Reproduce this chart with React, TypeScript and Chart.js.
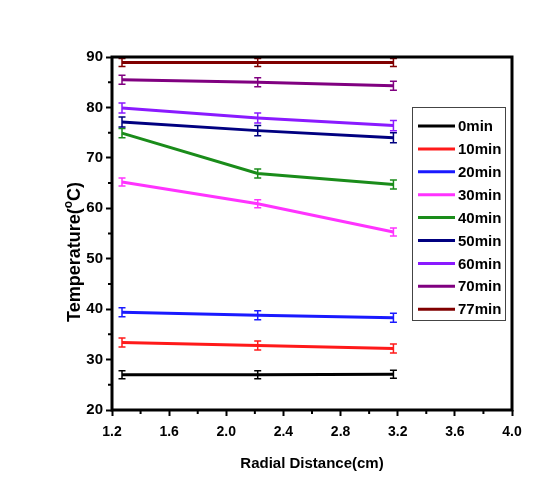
import React, { useEffect, useRef } from "react";
import { Chart, registerables } from "chart.js";

Chart.register(...registerables);

const distances = [1.27, 2.22, 3.17];
const seriesLabels = ["0min", "10min", "20min", "30min", "40min", "50min", "60min", "70min", "77min"];
const seriesColors = ["#000000", "#ff1a1a", "#1a1aff", "#ff33ff", "#1a8c1a", "#000080", "#8a1aff", "#800080", "#800000"];
const t0 = [27.0, 27.0, 27.1];
const t10 = [33.4, 32.8, 32.2];
const t20 = [39.4, 38.8, 38.3];
const t30 = [65.2, 60.9, 55.3];
const t40 = [74.9, 66.9, 64.7];
const t50 = [77.1, 75.4, 74.0];
const t60 = [79.9, 77.9, 76.4];
const t70 = [85.5, 85.0, 84.3];
const t77 = [88.9, 88.9, 88.9];
const seriesValues = [t0, t10, t20, t30, t40, t50, t60, t70, t77];
const errors = [0.8, 0.9, 0.9, 0.8, 0.9, 1.0, 1.0, 0.9, 0.8];
const yTicks = [20, 30, 40, 50, 60, 70, 80, 90];
const xTicks = [1.2, 1.6, 2.0, 2.4, 2.8, 3.2, 3.6, 4.0];

const FONT = "'Liberation Sans', Arial, sans-serif";

const decorPlugin = {
  id: "decor",
  afterDatasetsDraw(chart: any) {
    const ctx = chart.ctx;
    const xs = chart.scales.x;
    const ys = chart.scales.y;
    const { left, right, top, bottom } = chart.chartArea;
    ctx.save();
    // error bars
    chart.data.datasets.forEach((ds: any, i: number) => {
      ctx.strokeStyle = ds.borderColor;
      ctx.lineWidth = 1.5;
      ds.data.forEach((p: any) => {
        const px = xs.getPixelForValue(p.x);
        const yHi = ys.getPixelForValue(p.y + errors[i]);
        const yLo = ys.getPixelForValue(p.y - errors[i]);
        ctx.beginPath();
        ctx.moveTo(px, yHi);
        ctx.lineTo(px, yLo);
        ctx.moveTo(px - 3.5, yHi);
        ctx.lineTo(px + 3.5, yHi);
        ctx.moveTo(px - 3.5, yLo);
        ctx.lineTo(px + 3.5, yLo);
        ctx.stroke();
      });
    });
    // frame
    ctx.strokeStyle = "#000";
    ctx.lineWidth = 3;
    ctx.strokeRect(left, top, right - left, bottom - top);
    // minor ticks
    ctx.lineWidth = 2;
    ctx.beginPath();
    for (let i = 0; i < yTicks.length - 1; i++) {
      const v = (yTicks[i] + yTicks[i + 1]) / 2;
      const py = ys.getPixelForValue(v);
      ctx.moveTo(left - 4, py);
      ctx.lineTo(left, py);
    }
    for (let i = 0; i < xTicks.length - 1; i++) {
      const v = (xTicks[i] + xTicks[i + 1]) / 2;
      const px = xs.getPixelForValue(v);
      ctx.moveTo(px, bottom);
      ctx.lineTo(px, bottom + 4);
    }
    ctx.stroke();

    // legend
    const lx = right - 100;
    const ly = top + 50;
    const lw = 93;
    const lh = 213;
    ctx.fillStyle = "#fff";
    ctx.fillRect(lx, ly, lw, lh);
    ctx.strokeStyle = "#444";
    ctx.lineWidth = 1;
    ctx.strokeRect(lx + 0.5, ly + 0.5, lw, lh);
    ctx.font = `bold 15px ${FONT}`;
    ctx.textBaseline = "middle";
    ctx.textAlign = "left";
    chart.data.datasets.forEach((ds: any, i: number) => {
      const ry = ly + 19 + i * 22.9;
      ctx.strokeStyle = ds.borderColor;
      ctx.lineWidth = 3;
      ctx.beginPath();
      ctx.moveTo(lx + 6, ry);
      ctx.lineTo(lx + 43, ry);
      ctx.stroke();
      ctx.fillStyle = "#000";
      ctx.fillText(ds.label, lx + 46, ry + 1);
    });

    // axis titles
    ctx.fillStyle = "#000";
    ctx.font = `bold 15px ${FONT}`;
    ctx.textAlign = "center";
    ctx.textBaseline = "middle";
    ctx.fillText("Radial Distance(cm)", (left + right) / 2, 464);

    ctx.translate(75, 252);
    ctx.rotate(-Math.PI / 2);
    const big = `bold 18px ${FONT}`;
    const small = `bold 12px ${FONT}`;
    const a = "Temperature(";
    const b = "o";
    const c = "C)";
    ctx.font = big;
    const wa = ctx.measureText(a).width;
    const wc = ctx.measureText(c).width;
    ctx.font = small;
    const wb = ctx.measureText(b).width;
    const total = wa + wb + wc;
    let x0 = -total / 2;
    ctx.textAlign = "left";
    ctx.font = big;
    ctx.fillText(a, x0, 0);
    ctx.font = small;
    ctx.fillText(b, x0 + wa, -6);
    ctx.font = big;
    ctx.fillText(c, x0 + wa + wb, 0);
    ctx.restore();
  },
};

export default function App() {
  const ref = useRef<HTMLCanvasElement | null>(null);
  useEffect(() => {
    if (!ref.current) return;
    const chart = new Chart(ref.current, {
      type: "line",
      data: {
        datasets: seriesLabels.map((label, i) => ({
          label,
          data: distances.map((d, j) => ({ x: d, y: seriesValues[i][j] })),
          borderColor: seriesColors[i],
          backgroundColor: seriesColors[i],
          borderWidth: 3,
          pointRadius: 0,
          tension: 0,
        })),
      },
      options: {
        animation: false,
        responsive: false,
        events: [],
        layout: { padding: { top: 57, right: 31, left: 0, bottom: 0 } },
        plugins: { legend: { display: false }, tooltip: { enabled: false } },
        scales: {
          x: {
            type: "linear",
            min: 1.2,
            max: 4.0,
            afterFit: (s: any) => { s.height = 76; },
            afterBuildTicks: (s: any) => { s.ticks = xTicks.map((v) => ({ value: v })); },
            ticks: {
              color: "#000",
              font: { family: FONT, size: 14, weight: "bold" },
              padding: 8,
              callback: (v: any) => Number(v).toFixed(1),
              maxRotation: 0,
            },
            grid: { drawOnChartArea: false, drawTicks: true, tickLength: 6, color: "#000", tickWidth: 2 },
            border: { display: false },
          },
          y: {
            type: "linear",
            min: 20,
            max: 90,
            afterFit: (s: any) => { s.width = 112; },
            afterBuildTicks: (s: any) => { s.ticks = yTicks.map((v) => ({ value: v })); },
            ticks: {
              color: "#000",
              font: { family: FONT, size: 15, weight: "bold" },
              padding: 3,
            },
            grid: { drawOnChartArea: false, drawTicks: true, tickLength: 6, color: "#000", tickWidth: 2 },
            border: { display: false },
          },
        },
      },
      plugins: [decorPlugin],
    } as any);
    return () => chart.destroy();
  }, []);
  return (
    <div style={{ position: "absolute", left: 0, top: 0, width: 543, height: 486, background: "#fff" }}>
      <canvas ref={ref} width={543} height={486} style={{ width: 543, height: 486, display: "block" }} />
    </div>
  );
}
